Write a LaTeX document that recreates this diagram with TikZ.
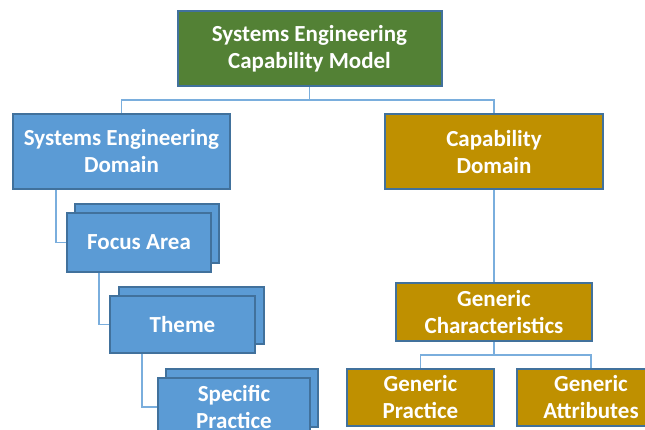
\documentclass[tikz,border=0pt]{standalone}
\usepackage{fontspec}
\setmainfont{Carlito}
\definecolor{boxblue}{HTML}{5B9BD5}
\definecolor{edgeblue}{HTML}{41719C}
\definecolor{boxgreen}{HTML}{538135}
\definecolor{boxgold}{HTML}{BF9000}
\definecolor{linkblue}{HTML}{7AAEDD}
\tikzset{
  card/.style={draw=edgeblue, line width=2pt, text=white, align=center,
    inner sep=0pt, font=\fontsize{23}{27}\selectfont\bfseries},
  greencard/.style={card, fill=boxgreen},
  bluecard/.style={card, fill=boxblue},
  goldcard/.style={card, fill=boxgold},
  link/.style={draw=linkblue, line width=1.3pt}
}
\begin{document}
\begin{tikzpicture}[x=1pt,y=-1pt]
\clip (0,0) rectangle (645,430);
\fill[white] (0,0) rectangle (645,430);
% top
\node[greencard, minimum width=264pt, minimum height=75pt] (top) at (309.5,48.5) {Systems Engineering\\Capability Model};
\node[bluecard, minimum width=217pt, minimum height=75pt] (sed) at (121.5,151.5) {Systems Engineering\\Domain};
\node[goldcard, minimum width=218pt, minimum height=75pt] (cd) at (494,152) {Capability\\Domain};
% stacked blue cards
\node[bluecard, minimum width=144pt, minimum height=59pt] (focusback) at (147,233.5) {};
\node[bluecard, minimum width=144pt, minimum height=59pt] (focus) at (139,242.5) {Focus Area};
\node[bluecard, minimum width=145pt, minimum height=57pt] (themeback) at (191,315.5) {};
\node[bluecard, minimum width=145pt, minimum height=57pt] (theme) at (182.5,324.5) {Theme};
\node[bluecard, minimum width=152pt, minimum height=58pt] (spback) at (242,398) {};
\node[bluecard, minimum width=152pt, minimum height=58pt] (sp) at (234,407) {Specific\\Practice};
% gold cards
\node[goldcard, minimum width=196pt, minimum height=58pt] (gc) at (494,312) {Generic\\Characteristics};
\node[goldcard, minimum width=147pt, minimum height=57pt] (gp) at (420.5,397.5) {Generic\\Practice};
\node[goldcard, minimum width=148pt, minimum height=57pt] (ga) at (591,397.5) {Generic\\Attributes};
% connectors
\coordinate (j1) at (309.5,100);
\coordinate (j2) at (494,355);
\draw[link] (top.south) -- (j1) -| (sed.north);
\draw[link] (j1) -| (cd.north);
\draw[link] (sed.south -| 56,0) |- (focus.west);
\draw[link] (focus.south -| 99,0) |- (theme.west);
\draw[link] (theme.south -| 142,0) |- (sp.west);
\draw[link] (cd.south) -- (gc.north);
\draw[link] (gc.south) -- (j2) -| (gp.north);
\draw[link] (j2) -| (ga.north);
\end{tikzpicture}
\end{document}
